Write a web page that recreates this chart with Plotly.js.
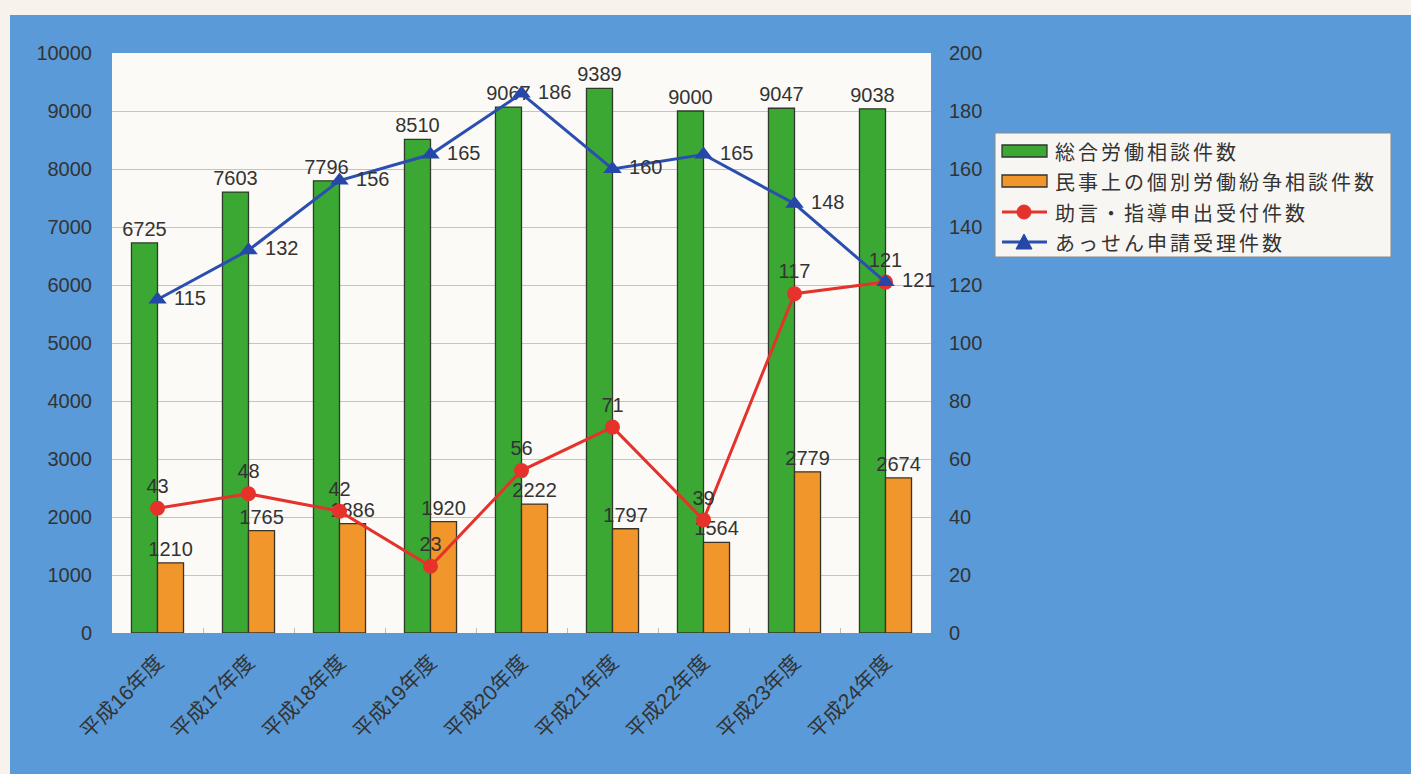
<!DOCTYPE html>
<html><head><meta charset="utf-8">
<script src="https://cdn.plot.ly/plotly-3.0.1.min.js"></script>
<style>
html,body{margin:0;padding:0;background:#f7f3ec;width:1411px;height:774px;overflow:hidden;}
#chart{position:absolute;left:10px;top:15px;width:1401px;height:759px;}
</style></head>
<body><div id="chart"></div>
<script>
const categories = ["平成16年度","平成17年度","平成18年度","平成19年度","平成20年度","平成21年度","平成22年度","平成23年度","平成24年度"];
const sogoSodan = [6725,7603,7796,8510,9067,9389,9000,9047,9038];
const kobetsuFunso = [1210,1765,1886,1920,2222,1797,1564,2779,2674];
const jogenShido = [43,48,42,23,56,71,39,117,121];
const assen = [115,132,156,165,186,160,165,148,121];
const seriesNames = ["総合労働相談件数","民事上の個別労働紛争相談件数","助言・指導申出受付件数","あっせん申請受理件数"];
const seriesColors = ["#3aa832","#f0962b","#e5322b","#2b4fb0"];

const FONT = "'Liberation Sans', Arial, 'Noto Sans CJK JP', sans-serif";
const txtFont = {family: FONT, size: 20, color: "#333"};

const traces = [
  {type:"bar", name:seriesNames[0], x:categories, y:sogoSodan, text:sogoSodan.map(String),
   textposition:"outside", textfont:txtFont, cliponaxis:false, constraintext:"none",
   marker:{color:seriesColors[0], line:{color:"#2f3a2a", width:1.3}}},
  {type:"bar", name:seriesNames[1], x:categories, y:kobetsuFunso, text:kobetsuFunso.map(String),
   textposition:"outside", textfont:txtFont, cliponaxis:false, constraintext:"none",
   marker:{color:seriesColors[1], line:{color:"#3a3328", width:1.3}}},
  {type:"scatter", mode:"lines+markers+text", name:seriesNames[2], x:categories, y:jogenShido, yaxis:"y2",
   text:jogenShido.map(String), textposition:"top center", textfont:txtFont, cliponaxis:false,
   line:{color:seriesColors[2], width:3}, marker:{symbol:"circle", size:15, color:seriesColors[2]}},
  {type:"scatter", mode:"lines+markers+text", name:seriesNames[3], x:categories, y:assen, yaxis:"y2",
   text:assen.map(v=>" "+v), textposition:"middle right", textfont:txtFont, cliponaxis:false,
   line:{color:seriesColors[3], width:3}, marker:{symbol:"triangle-up", size:16, color:"#2447a8"}}
];

// custom legend (page pixel coords -> paper coords)
const PL=112, PW=819, PB=633, PH=580;
const xp = X => (X-PL)/PW;
const yp = Y => (PB-Y)/PH;
const shapes = [];
const annotations = [];
shapes.push({type:"rect", xref:"paper", yref:"paper", x0:xp(995), x1:xp(1391), y0:yp(133), y1:yp(257),
  fillcolor:"#f8f6f2", line:{color:"#8a8a8a", width:1}, layer:"above"});
const rowY = [151, 181, 212, 242];
shapes.push({type:"rect", xref:"paper", yref:"paper", x0:xp(1002), x1:xp(1047), y0:yp(rowY[0]-6), y1:yp(rowY[0]+6),
  fillcolor:seriesColors[0], line:{color:"#333", width:1.3}, layer:"above"});
shapes.push({type:"rect", xref:"paper", yref:"paper", x0:xp(1002), x1:xp(1047), y0:yp(rowY[1]-6), y1:yp(rowY[1]+6),
  fillcolor:seriesColors[1], line:{color:"#333", width:1.3}, layer:"above"});
shapes.push({type:"line", xref:"paper", yref:"paper", x0:xp(1002), x1:xp(1047), y0:yp(rowY[2]), y1:yp(rowY[2]),
  line:{color:seriesColors[2], width:3}, layer:"above"});
shapes.push({type:"circle", xref:"paper", yref:"paper", x0:xp(1017), x1:xp(1031), y0:yp(rowY[2]-7), y1:yp(rowY[2]+7),
  fillcolor:seriesColors[2], line:{color:seriesColors[2], width:1}, layer:"above"});
shapes.push({type:"line", xref:"paper", yref:"paper", x0:xp(1002), x1:xp(1047), y0:yp(rowY[3]), y1:yp(rowY[3]),
  line:{color:seriesColors[3], width:3}, layer:"above"});
shapes.push({type:"path", xref:"paper", yref:"paper",
  path:`M ${xp(1016)},${yp(rowY[3]+7)} L ${xp(1032)},${yp(rowY[3]+7)} L ${xp(1024)},${yp(rowY[3]-8)} Z`,
  fillcolor:"#2447a8", line:{color:"#2447a8", width:1}, layer:"above"});
seriesNames.forEach((n,i)=>{
  annotations.push({xref:"paper", yref:"paper", x:xp(1054), y:yp(rowY[i]), xanchor:"left", yanchor:"middle",
    align:"left", text:`<span style="letter-spacing:3px">${n}</span>`, showarrow:false, borderpad:0,
    font:{family:"'Noto Sans CJK JP', sans-serif", size:20, color:"#333"}});
});

const layout = {
  width:1401, height:759,
  paper_bgcolor:"#5a9ad8", plot_bgcolor:"#fcfaf7",
  margin:{l:102, r:480, t:38, b:141},
  font:{family:FONT, size:20, color:"#333"},
  barmode:"group", bargap:0.428, bargroupgap:0,
  showlegend:false,
  shapes:shapes, annotations:annotations,
  xaxis:{range:[-0.5, categories.length-0.5], autorange:false, tickangle:-45,
         tickfont:{family:FONT, size:21, color:"#333"}, ticklabelstandoff:12,
         ticks:"inside", ticklen:5, tickcolor:"#bbb", tickson:"boundaries", showgrid:false,
         showline:false, zeroline:false},
  yaxis:{range:[0,10000], dtick:1000, tickformat:"d", showgrid:true, gridcolor:"#c4c4c4", gridwidth:1,
         ticks:"outside", ticklen:15, tickcolor:"rgba(0,0,0,0)", zeroline:false, showline:false,
         tickfont:{family:FONT, size:20, color:"#333"}},
  yaxis2:{range:[0,200], dtick:20, overlaying:"y", side:"right", showgrid:false, zeroline:false,
          ticks:"outside", ticklen:13, tickcolor:"rgba(0,0,0,0)", showline:false,
          tickfont:{family:FONT, size:20, color:"#333"}}
};

Plotly.newPlot("chart", traces, layout, {displayModeBar:false, staticPlot:true});
</script></body></html>
